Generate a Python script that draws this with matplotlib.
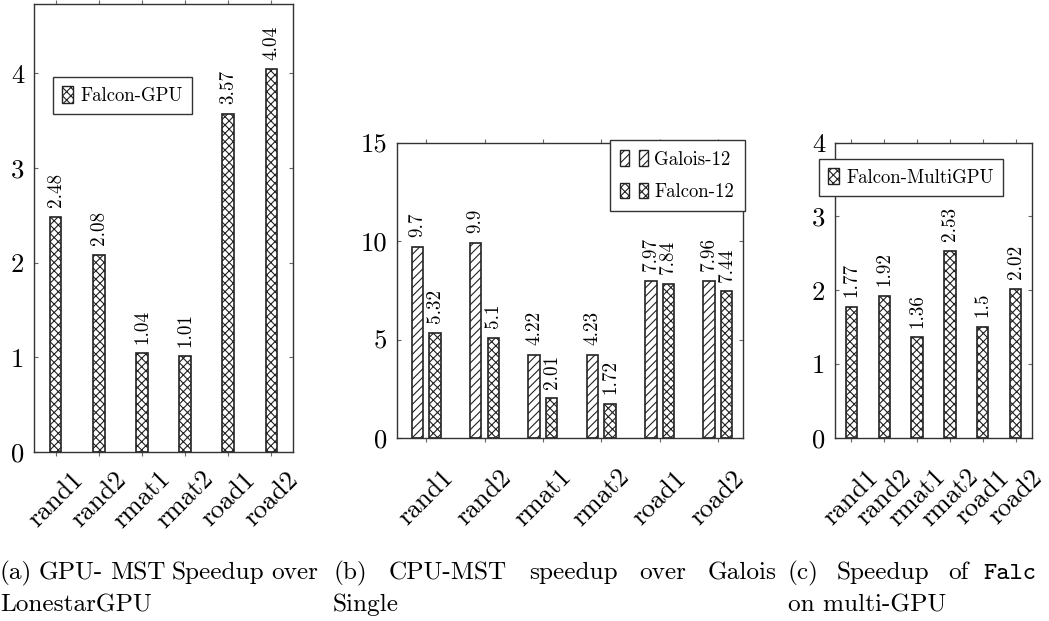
import matplotlib
matplotlib.use("Agg")
import matplotlib.pyplot as plt
import numpy as np
from matplotlib.legend_handler import HandlerTuple
from matplotlib.patches import Rectangle

plt.rcParams['font.family'] = ['cmr10', 'DejaVu Serif']
plt.rcParams['axes.formatter.use_mathtext'] = True
plt.rcParams['hatch.linewidth'] = 0.8

graphs = ["rand1", "rand2", "rmat1", "rmat2", "road1", "road2"]
gpu_speedup = [2.48, 2.08, 1.04, 1.01, 3.57, 4.04]
galois12 = [9.7, 9.9, 4.22, 4.23, 7.97, 7.96]
falcon12 = [5.32, 5.1, 2.01, 1.72, 7.84, 7.44]
multigpu = [1.77, 1.92, 1.36, 2.53, 1.5, 2.02]

W, H = 1049, 621
fig = plt.figure(figsize=(W / 100, H / 100), dpi=100)

def px_axes(left, right, top, bottom):
    return fig.add_axes([left / W, 1 - bottom / H, (right - left) / W, (bottom - top) / H])

EDGE = '#222222'
TICK_FS = 19.2
VAL_FS = 13.8
LEG_FS = 13.5
CAP_FS = 18.2

def style(ax, pad):
    for s in ax.spines.values():
        s.set_color('#333333')
        s.set_linewidth(1.0)
    ax.tick_params(axis='x', direction='out', length=3, top=True, bottom=True,
                   color='#666666', labelsize=TICK_FS, pad=pad)
    ax.tick_params(axis='y', direction='in', length=3, left=True, right=True,
                   color='#666666', labelsize=TICK_FS, pad=7)
    ax.set_xticks(np.arange(1, 7))
    ax.set_xticklabels(graphs, rotation=45, ha='center', va='center', rotation_mode='anchor')

def labels(ax, xs, vals):
    for x, v in zip(xs, vals):
        ax.annotate(str(v), (x, v), xytext=(0, 7), textcoords='offset points',
                    rotation=90, ha='center', va='bottom', fontsize=VAL_FS)

def hpatch(h):
    return Rectangle((0, 0), 1, 1, facecolor='white', edgecolor=EDGE, hatch=h, linewidth=1.0)

leg_kw = dict(loc='upper left', bbox_transform=fig.transFigure, borderaxespad=0, fancybox=False,
              framealpha=1, edgecolor='#333333', fontsize=LEG_FS)

x = np.arange(1, 7)

# (a) GPU speedup
ax1 = px_axes(34, 293, 4, 452)
ax1.bar(x, gpu_speedup, width=0.27, color='white', edgecolor=EDGE, linewidth=1.2, hatch='xxxx')
labels(ax1, x, gpu_speedup)
ax1.set_xlim(0.5, 6.5)
ax1.set_ylim(0, 4.73)
ax1.set_yticks([0, 1, 2, 3, 4])
ax1.set_yticklabels(["0", "1", "2", "3", "4"])
style(ax1, 31)
ax1.legend([hpatch('xxxx')], ["Falcon-GPU"], bbox_to_anchor=(52.7 / W, 1 - 76.7 / H),
           handlelength=0.59, handleheight=1.0, handletextpad=0.37, borderpad=0.5, **leg_kw)

# (b) CPU speedup over Galois single
ax2 = px_axes(397, 743, 142.5, 438)
ax2.bar(x - 0.15, galois12, width=0.195, color='white', edgecolor=EDGE, linewidth=1.2, hatch='////')
ax2.bar(x + 0.15, falcon12, width=0.195, color='white', edgecolor=EDGE, linewidth=1.2, hatch='xxxx')
labels(ax2, x - 0.15, galois12)
labels(ax2, x + 0.15, falcon12)
ax2.set_xlim(0.5, 6.43)
ax2.set_ylim(0, 15)
ax2.set_yticks([0, 5, 10, 15])
ax2.set_yticklabels(["0", "5", "10", "15"])
style(ax2, 40)
hg = (hpatch('////'), hpatch('////'))
hf = (hpatch('xxxx'), hpatch('xxxx'))
ax2.legend([hg, hf], ["Galois-12", "Falcon-12"], handler_map={tuple: HandlerTuple(ndivide=None, pad=0.53)},
           bbox_to_anchor=(610 / W, 1 - 140 / H), handlelength=1.5, handleheight=0.9,
           handletextpad=0.32, borderpad=0.55, labelspacing=0.75, **leg_kw)

# (c) multi-GPU speedup
ax3 = px_axes(835, 1032, 142.7, 437.7)
ax3.bar(x, multigpu, width=0.35, color='white', edgecolor=EDGE, linewidth=1.2, hatch='xxxx')
labels(ax3, x, multigpu)
ax3.set_xlim(0.5, 6.5)
ax3.set_ylim(0, 4)
ax3.set_yticks([0, 1, 2, 3, 4])
ax3.set_yticklabels(["0", "1", "2", "3", "4"])
style(ax3, 40)
ax3.legend([hpatch('xxxx')], ["Falcon-MultiGPU"], bbox_to_anchor=(819 / W, 1 - 158.7 / H),
           handlelength=0.59, handleheight=0.96, handletextpad=0.36, borderpad=0.5, **leg_kw)

# captions: first lines are justified between two x positions
renderer = fig.canvas.get_renderer()

def justify(words, x0, x1, y):
    texts = [fig.text(0, 1 - y / H, w, fontsize=CAP_FS, va='baseline', ha='left') for w in words]
    widths = [t.get_window_extent(renderer).width for t in texts]
    gap = (x1 - x0 - sum(widths)) / (len(words) - 1)
    pos = x0
    for t, w in zip(texts, widths):
        t.set_x(pos / W)
        pos += w + gap

def line(text, xp, y, **kw):
    fig.text(xp / W, 1 - y / H, text, fontsize=CAP_FS, va='baseline', ha='left', **kw)

justify(["(a)", "GPU-", "MST", "Speedup", "over"], 0, 318, 579)
line("LonestarGPU", 0, 611)
justify(["(b)", "CPU-MST", "speedup", "over", "Galois"], 333, 777, 579)
line("Single", 333, 611)
line("(c)", 788, 579)
line("Speedup", 836.7, 579)
line("of", 948, 579)
line("Falc", 983, 579, family='cmtt10')
line("on multi-GPU", 788, 611)

fig.savefig("out.png", dpi=100)
